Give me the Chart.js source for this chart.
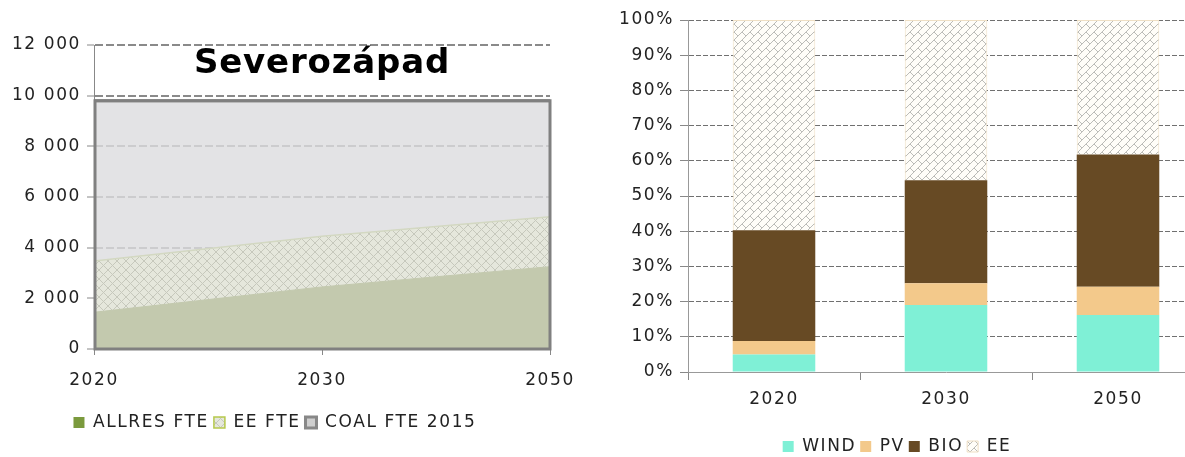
<!DOCTYPE html>
<html><head><meta charset="utf-8">
<script src="https://cdn.jsdelivr.net/npm/chart.js@4"></script>
<style>
html,body{margin:0;padding:0;width:1185px;height:457px;overflow:hidden;background:#fff}
#l{position:absolute;left:0;top:0;width:580px;height:457px}
#r{position:absolute;left:590px;top:0;width:630px;height:465px}
</style></head><body>
<div id="l"><canvas id="cl"></canvas></div>
<div id="r"><canvas id="cr"></canvas></div>
<script>
// ---- data: left chart (FTE) ----
const leftTitle = 'Severozápad';
const leftYears = ['2020', '2030', '2050'];
const allresFte = [1450, 2450, 3250];
const eeFte = [2020, 2000, 1970];
const coalFte2015 = [9800, 9800, 9800];
const leftTickStep = 2000;
const leftMax = 12000;

// ---- data: right chart (shares, %) ----
const rightYears = ['2020', '2030', '2050'];
const windShare = [5.0, 19.0, 16.2];
const pvShare = [3.8, 6.2, 8.0];
const bioShare = [31.5, 29.3, 37.6];
const eeShare = [59.7, 45.5, 38.2];

const FONT = 'DejaVu Sans';
Chart.defaults.font.family = FONT;
Chart.defaults.font.size = 17;
Chart.defaults.color = '#222';

const spacing = {
  id: 'spacing',
  beforeLayout(c) { c.ctx.letterSpacing = '1.6px'; },
  beforeDraw(c) { c.ctx.letterSpacing = '1.6px'; }
};

function crossTile(size) {
  const c = document.createElement('canvas'); c.width = c.height = size;
  const g = c.getContext('2d');
  g.fillStyle = '#e5e7dc'; g.fillRect(0, 0, size, size);
  g.strokeStyle = '#c6c8bc'; g.lineWidth = 1;
  g.beginPath();
  g.moveTo(0, 0); g.lineTo(size, size);
  g.moveTo(size, 0); g.lineTo(0, size);
  g.stroke();
  return c;
}
function brickTile(d) {
  const T = 2 * d, e = 2 * d;
  const c = document.createElement('canvas'); c.width = c.height = T;
  const g = c.getContext('2d');
  g.fillStyle = '#fffdf8'; g.fillRect(0, 0, T, T);
  g.strokeStyle = '#b4b4b0'; g.lineWidth = 0.9;
  g.beginPath();
  for (let k = -1; k <= 5; k++) { const cc = k * d; g.moveTo(cc + 5, -5); g.lineTo(cc - T - 5, T + 5); }
  for (let k = -2; k <= 5; k++) {
    const c1 = k * d, c2 = (k + 1) * d;
    for (let m = -4; m <= 4; m++) {
      const s = m * e + ((k % 2 + 2) % 2) * e / 2;
      g.moveTo((c1 + s) / 2, (c1 - s) / 2);
      g.lineTo((c2 + s) / 2, (c2 - s) / 2);
    }
  }
  g.stroke();
  return c;
}
const fmt = v => String(v).replace(/\B(?=(\d{3})+(?!\d))/g, ' ');

// ---------- left chart ----------
const lctx = document.getElementById('cl').getContext('2d');
const crossPat = lctx.createPattern(crossTile(9), 'repeat');

const coalFrame = {
  id: 'coalFrame',
  afterDatasetsDraw(c) {
    const x = c.scales.x, y = c.scales.y, g = c.ctx;
    const x0 = x.getPixelForValue(0), x1 = x.getPixelForValue(leftYears.length - 1);
    const y0 = y.getPixelForValue(0), y1 = y.getPixelForValue(coalFte2015[0]);
    g.save(); g.strokeStyle = '#808080'; g.lineWidth = 3;
    g.strokeRect(x0 + 1, y1, x1 - x0 - 1, y0 - y1);
    g.restore();
  }
};
const titlePlugin = {
  id: 'titleIn',
  afterDraw(c) {
    const a = c.chartArea, g = c.ctx;
    g.save(); g.letterSpacing = '0.8px';
    g.font = 'bold 34px ' + FONT; g.fillStyle = '#000';
    g.textAlign = 'center'; g.textBaseline = 'middle';
    g.fillText(leftTitle, (a.left + a.right) / 2, a.top + 19);
    g.restore();
  }
};

new Chart(lctx, {
  type: 'line',
  data: {
    labels: leftYears,
    datasets: [
      { label: 'ALLRES FTE', data: allresFte, stack: 's', fill: 'origin', backgroundColor: '#c3c9ae', borderColor: '#c3c9ae', borderWidth: 1, pointRadius: 0, tension: 0 },
      { label: 'EE FTE', data: eeFte, stack: 's', fill: '-1', backgroundColor: crossPat, borderColor: '#d3d8c2', borderWidth: 1.5, pointRadius: 0, tension: 0 },
      { label: 'COAL FTE 2015', data: coalFte2015, stack: 'c', fill: 'origin', backgroundColor: 'rgba(220,220,222,0.8)', borderColor: '#808080', borderWidth: 3, pointRadius: 0, tension: 0 }
    ]
  },
  options: {
    responsive: true, maintainAspectRatio: false, animation: false,
    layout: { padding: { left: 0, right: 30, top: 45, bottom: 16 } },
    plugins: {
      tooltip: { enabled: false },
      legend: {
        position: 'bottom',
        labels: {
          boxWidth: 11, boxHeight: 11, padding: 5, color: '#222',
          generateLabels: () => [
            { text: 'ALLRES FTE', fillStyle: '#7b9a3d', strokeStyle: '#7b9a3d', lineWidth: 0, datasetIndex: 0, fontColor: '#222' },
            { text: 'EE FTE', fillStyle: crossPat, strokeStyle: '#b6c94c', lineWidth: 1.5, datasetIndex: 1, fontColor: '#222' },
            { text: 'COAL FTE 2015', fillStyle: '#cfcfcf', strokeStyle: '#888', lineWidth: 3, datasetIndex: 2, fontColor: '#222' }
          ]
        }
      }
    },
    scales: {
      x: {
        offset: false,
        grid: { display: true, drawOnChartArea: false, tickLength: 6, color: '#888' },
        border: { color: '#888' },
        ticks: { padding: 15, maxRotation: 0 },
        afterFit(s) { s.height = 60; s.paddingRight = 0; s.paddingLeft = 0; }
      },
      y: {
        stacked: true, min: 0, max: leftMax,
        ticks: { stepSize: leftTickStep, callback: v => fmt(v), padding: 6 },
        grid: { color: '#8a8a8a', lineWidth: 2, tickLength: 7, tickColor: '#888', tickWidth: 1 },
        border: { color: '#888', dash: [8, 3] },
        afterFit(s) { s.width = 94; }
      }
    }
  },
  plugins: [spacing, coalFrame, titlePlugin]
});

// ---------- right chart ----------
const rctx = document.getElementById('cr').getContext('2d');
const brickPat = rctx.createPattern(brickTile(8), 'repeat');

new Chart(rctx, {
  type: 'bar',
  data: {
    labels: rightYears,
    datasets: [
      { label: 'WIND', data: windShare, backgroundColor: '#7ff0d6', borderWidth: 0 },
      { label: 'PV', data: pvShare, backgroundColor: '#f3c98b', borderWidth: 0 },
      { label: 'BIO', data: bioShare, backgroundColor: '#674a24', borderWidth: 0 },
      { label: 'EE', data: eeShare, backgroundColor: brickPat, borderColor: '#efdfc4', borderWidth: 1 }
    ]
  },
  options: {
    responsive: true, maintainAspectRatio: false, animation: false,
    layout: { padding: { left: 0, right: 16, top: 20, bottom: 0 } },
    datasets: { bar: { barPercentage: 0.48, categoryPercentage: 1.0 } },
    plugins: {
      tooltip: { enabled: false },
      legend: { position: 'bottom', labels: { boxWidth: 11, boxHeight: 11, padding: 4, color: '#222' } }
    },
    scales: {
      x: {
        stacked: true,
        grid: { display: true, drawOnChartArea: false, tickLength: 8, color: '#888', offset: true },
        border: { color: '#999' },
        ticks: { padding: 9, maxRotation: 0 },
        afterFit(s) { s.height = 62; }
      },
      y: {
        stacked: true, min: 0, max: 100,
        ticks: { stepSize: 10, callback: v => v + '%', padding: 6 },
        grid: { color: '#707070', lineWidth: 1, tickLength: 8, tickColor: '#888' },
        border: { color: '#999', dash: [5, 2] },
        afterFit(s) { s.width = 98; }
      }
    }
  },
  plugins: [spacing]
});
</script>
</body></html>
